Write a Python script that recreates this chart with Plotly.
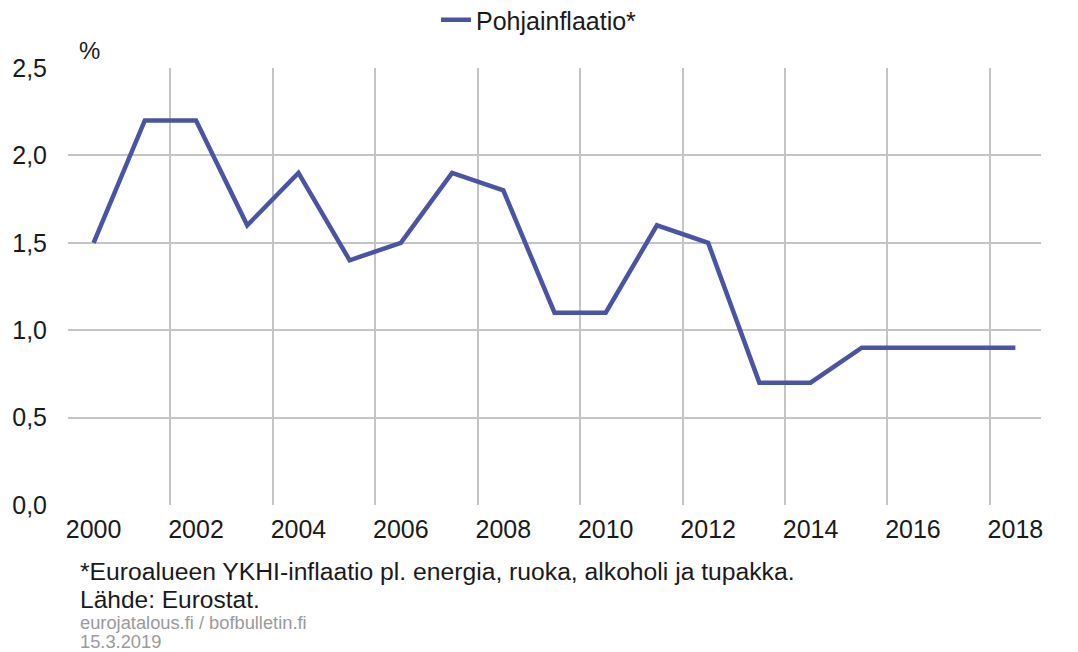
import plotly.graph_objects as go

years = list(range(2000, 2019))
core_inflation = [1.5, 2.2, 2.2, 1.6, 1.9, 1.4, 1.5, 1.9, 1.8, 1.1, 1.1, 1.6, 1.5, 0.7, 0.7, 0.9, 0.9, 0.9, 0.9]
series_name = "Pohjainflaatio*"
x_ticks = list(range(2000, 2019, 2))
y_ticks = [0, 0.5, 1.0, 1.5, 2.0, 2.5]
y_tick_labels = ["0,0", "0,5", "1,0", "1,5", "2,0", "2,5"]

FONT = "Liberation Sans, Arial, sans-serif"
GRID = "#c4c4c4"
W, H = 1078, 652
PLOT_LEFT, PLOT_RIGHT = 68, 1041
PLOT_TOP, PLOT_BOTTOM = 68, 505

fig = go.Figure()
fig.add_trace(go.Scatter(
    x=years, y=core_inflation, mode="lines", name=series_name,
    line=dict(color="#4b54a3", width=4.5),
))

fig.update_layout(
    width=W, height=H,
    margin=dict(l=PLOT_LEFT, r=W - PLOT_RIGHT, t=PLOT_TOP, b=H - PLOT_BOTTOM),
    paper_bgcolor="white", plot_bgcolor="white",
    font=dict(family=FONT, size=25, color="#1a1a1a"),
    showlegend=True,
    legend=dict(orientation="h", x=0.5, xref="container", xanchor="center",
                y=1 - 20 / H, yanchor="middle", yref="container",
                font=dict(size=25), itemwidth=30, bgcolor="rgba(0,0,0,0)"),
    xaxis=dict(
        range=[1999.5, 2018.5], tickvals=x_ticks, ticktext=[str(v) for v in x_ticks],
        showgrid=False, zeroline=False, showline=False, ticks="", automargin=False,
        ticklabelstandoff=7,
        minor=dict(tickmode="linear", tick0=1999.5, dtick=2, showgrid=True,
                   gridcolor=GRID, gridwidth=1.5, ticks=""),
    ),
    yaxis=dict(
        range=[0, 2.5], tickvals=y_ticks, ticktext=y_tick_labels, automargin=False,
        showgrid=True, gridcolor=GRID, gridwidth=1.5, zeroline=False,
        showline=False, ticks="", ticklabelstandoff=20,
    ),
)

fig.add_annotation(x=0, xref="paper", y=1, yref="paper", xanchor="left", yanchor="bottom",
                   xshift=9, yshift=2, text="%", showarrow=False, font=dict(size=24))

notes = [
    ("*Euroalueen YKHI-inflaatio pl. energia, ruoka, alkoholi ja tupakka.", 571, 24.7, "#1a1a1a"),
    ("Lähde: Eurostat.", 599, 24.5, "#1a1a1a"),
    ("eurojatalous.fi / bofbulletin.fi", 622, 18.3, "#9a9a9a"),
    ("15.3.2019", 641, 18.3, "#9a9a9a"),
]
for text, ypx, size, color in notes:
    fig.add_annotation(x=0, xref="paper", xshift=11,
                       y=(PLOT_BOTTOM - ypx) / (PLOT_BOTTOM - PLOT_TOP), yref="paper",
                       text=text, showarrow=False, xanchor="left", yanchor="middle",
                       borderpad=0, font=dict(size=size, color=color))

fig.write_html(
    "out.html",
    config={"displayModeBar": False},
    post_script="document.body.style.margin='0';document.body.style.overflow='hidden';",
)
